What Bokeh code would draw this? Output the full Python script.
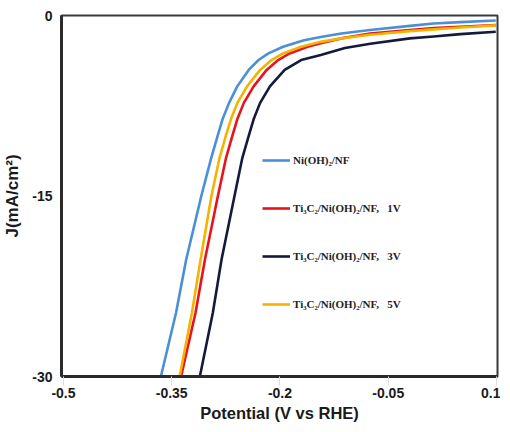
from bokeh.plotting import figure
from bokeh.models import Range1d, Legend, LegendItem, FixedTicker
from bokeh.embed import file_html
from bokeh.resources import INLINE

# ---- data ----
blue_v = [-0.365, -0.344, -0.330, -0.309, -0.2955, -0.2864, -0.2796, -0.2705, -0.2592, -0.2433,
          -0.2297, -0.216, -0.1957, -0.1667, -0.1435, -0.115, -0.075, -0.020, 0.013, 0.050, 0.099]
blue_j = [-30.0, -24.7, -20.3, -15.0, -11.9, -10.0, -8.63, -7.26, -5.89, -4.52,
          -3.70, -3.15, -2.6, -2.05, -1.78, -1.5, -1.2, -0.86, -0.66, -0.55, -0.41]

red_v = [-0.337, -0.317, -0.304, -0.286, -0.275, -0.266, -0.2592, -0.250, -0.2365, -0.2184,
         -0.2025, -0.1867, -0.1617, -0.1435, -0.115, -0.075, -0.020, 0.013, 0.050, 0.099]
red_j = [-30.0, -24.7, -20.3, -15.0, -11.9, -10.0, -8.63, -7.26, -5.89, -4.52,
         -3.70, -3.15, -2.6, -2.3, -1.9, -1.5, -1.2, -1.05, -0.93, -0.8]

navy_v = [-0.311, -0.293, -0.281, -0.263, -0.2524, -0.2433, -0.2365, -0.2275, -0.2139, -0.1935,
          -0.1707, -0.1435, -0.110, -0.075, -0.020, 0.013, 0.050, 0.099]
navy_j = [-30.0, -24.7, -20.3, -15.0, -11.9, -10.0, -8.63, -7.26, -5.89, -4.52,
          -3.70, -3.29, -2.7, -2.35, -1.9, -1.75, -1.55, -1.35]

yellow_v = [-0.339, -0.322, -0.310, -0.295, -0.284, -0.275, -0.268, -0.259, -0.2456, -0.2275,
            -0.2116, -0.1957, -0.1707, -0.1435, -0.115, -0.075, -0.020, 0.013, 0.050, 0.099]
yellow_j = [-30.0, -24.7, -20.3, -15.0, -11.9, -10.0, -8.63, -7.26, -5.89, -4.52,
            -3.70, -3.15, -2.6, -2.19, -1.9, -1.6, -1.3, -1.15, -1.0, -0.82]

x_ticks = [-0.5, -0.35, -0.2, -0.05, 0.1]
x_tick_labels = {-0.5: "-0.5", -0.35: "-0.35", -0.2: "-0.2", -0.05: "-0.05", 0.1: "0.1"}
y_ticks = [-30, -15, 0]
y_tick_labels = {-30: "-30", -15: "-15", 0: "0"}

series_names = ["Ni(OH)\u2082/NF",
                "Ti\u2083C\u2082/Ni(OH)\u2082/NF,\u00a0\u00a0\u00a01V",
                "Ti\u2083C\u2082/Ni(OH)\u2082/NF,\u00a0\u00a0\u00a03V",
                "Ti\u2083C\u2082/Ni(OH)\u2082/NF,\u00a0\u00a0\u00a05V"]
series_colors = ["#4a90d6", "#e8141c", "#151a3c", "#f5b300"]

p = figure(width=500, height=424, output_backend="svg", toolbar_location=None,
           x_range=Range1d(-0.5027, 0.1014), y_range=Range1d(-30, 0),
           min_border_left=53, min_border_right=3, min_border_top=15, min_border_bottom=44)

p.grid.visible = False
p.background_fill_color = "white"
p.border_fill_color = "white"
p.outline_line_color = "#3a3a3a"
p.outline_line_width = 2

r_blue = p.line(blue_v, blue_j, line_color=series_colors[0], line_width=2.6, line_join="round")
r_red = p.line(red_v, red_j, line_color=series_colors[1], line_width=2.6, line_join="round")
r_yellow = p.line(yellow_v, yellow_j, line_color=series_colors[3], line_width=2.6, line_join="round")
r_navy = p.line(navy_v, navy_j, line_color=series_colors[2], line_width=2.6, line_join="round")

# axes
p.xaxis.ticker = FixedTicker(ticks=x_ticks)
p.xaxis.major_label_overrides = x_tick_labels
p.yaxis.ticker = FixedTicker(ticks=y_ticks)
p.yaxis.major_label_overrides = y_tick_labels
for ax in (p.xaxis, p.yaxis):
    ax.axis_line_color = "#2b2b2b"
    ax.axis_line_width = 3
    ax.minor_tick_line_color = None
    ax.major_label_text_font = "Liberation Sans"
    ax.major_label_text_font_style = "bold"
    ax.major_label_text_font_size = "14px"
    ax.major_label_text_color = "#1a1a1a"
    ax.axis_label_text_font = "Liberation Sans"
    ax.axis_label_text_font_style = "bold"
    ax.axis_label_text_color = "#1a1a1a"

p.xaxis.major_tick_in = 0
p.xaxis.major_tick_out = 9
p.xaxis.major_tick_line_color = "#dcdcdc"
p.xaxis.major_label_standoff = 2
p.xaxis.axis_label = "Potential (V vs RHE)"
p.xaxis.axis_label_standoff = 3
p.xaxis.axis_label_text_font_size = "16.5px"

p.yaxis.major_tick_in = 0
p.yaxis.major_tick_out = 0
p.yaxis.major_label_standoff = 9
p.yaxis.axis_label = "J(mA/cm\u00b2)"
p.yaxis.axis_label_standoff = 7
p.yaxis.axis_label_text_font_size = "17px"

legend = Legend(items=[
    LegendItem(label=series_names[0], renderers=[r_blue]),
    LegendItem(label=series_names[1], renderers=[r_red]),
    LegendItem(label=series_names[2], renderers=[r_navy]),
    LegendItem(label=series_names[3], renderers=[r_yellow]),
], location=(201, 64))
legend.border_line_color = None
legend.background_fill_alpha = 0
legend.padding = 0
legend.margin = 0
legend.spacing = 32
legend.glyph_width = 28
legend.glyph_height = 16
legend.label_height = 16
legend.label_standoff = 3
legend.label_text_font = "Liberation Serif"
legend.label_text_font_style = "bold"
legend.label_text_font_size = "11px"
legend.label_text_color = "#222222"
p.add_layout(legend, "center")

open("out.html", "w").write(file_html(p, INLINE))
